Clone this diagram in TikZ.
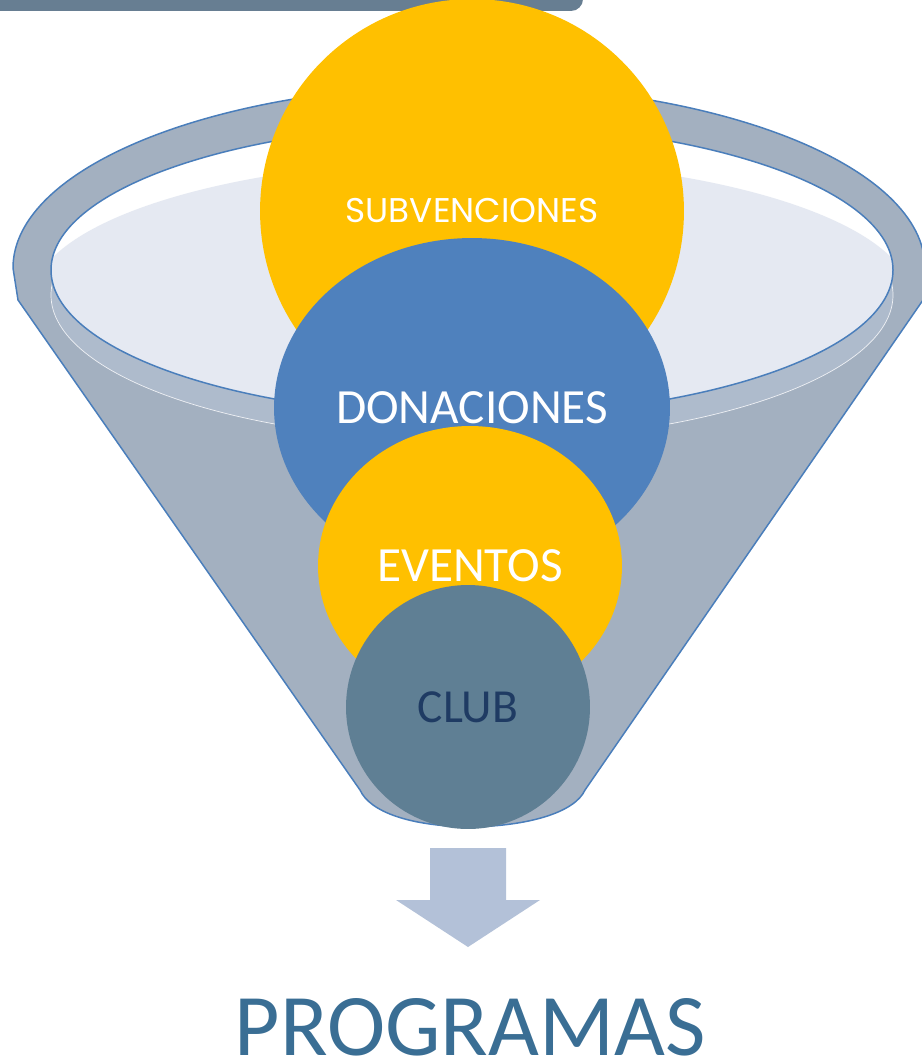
\documentclass[tikz,border=0pt]{standalone}
\usepackage{fontspec}
\setmainfont{Carlito}
\newfontfamily\gothic{Poppins}
\usetikzlibrary{shapes.geometric}

\definecolor{barslate}{HTML}{677E92}
\definecolor{funnelgray}{HTML}{A3B0C0}
\definecolor{bandgray}{HTML}{AEBBCC}
\definecolor{lavender}{HTML}{E5E9F2}
\definecolor{rimblue}{HTML}{4A7EBB}
\definecolor{gold}{HTML}{FFC000}
\definecolor{steel}{HTML}{4F81BD}
\definecolor{clubslate}{HTML}{5F7F94}
\definecolor{navy}{HTML}{1F3B63}
\definecolor{arrowblue}{HTML}{B3C1D8}
\definecolor{progblue}{HTML}{3A6E94}

\tikzset{
  bubble/.style={ellipse, inner sep=0pt, text=white, font=\fontsize{28}{31}\selectfont},
  rim/.style={draw=rimblue, line width=0.85pt}
}

\begin{document}
\begin{tikzpicture}[x=0.02cm,y=-0.02cm]
      \useasboundingbox (0,0) rectangle (922,1061);
      \clip (0,0) rectangle (922,1061);
      % top bar
      \fill[barslate, rounded corners=0.24cm] (-20,-40) rectangle (583,11);
      % funnel body
      \path[fill=funnelgray, rim] (18,300) -- (13,268)
        arc [start angle=180, end angle=360, x radius=456, y radius=183]
        -- (923,300) -- (585,790)
        .. controls (575,812) and (530,826) .. (470,827)
        .. controls (410,826) and (370,812) .. (360,790) -- cycle;
      % rim
      \filldraw[fill=bandgray, draw=white!80!bandgray, line width=0.4pt] (472,295) ellipse [x radius=421, y radius=146];
      \fill[white] (472,270) ellipse [x radius=421, y radius=146];
      \begin{scope}
        \clip (472,270) ellipse [x radius=421, y radius=146];
        \fill[lavender] (472,300) ellipse [x radius=440, y radius=140];
      \end{scope}
      \draw[rim] (472,270) ellipse [x radius=421, y radius=146];
      % sources
      \node[bubble, fill=gold, minimum width=8.48cm, minimum height=8.48cm,
        font=\gothic\fontsize{19.5}{22}\selectfont] (subv) at (472,211) {SUBVENCIONES};
      \node[bubble, fill=steel, minimum width=7.92cm, minimum height=6.8cm] (donac) at (472,408) {DONACIONES};
      \node[bubble, fill=gold, minimum width=6.08cm, minimum height=5.6cm] (event) at (470,566) {EVENTOS};
      \node[bubble, fill=clubslate, minimum width=4.88cm, minimum height=4.88cm,
        text=navy, font=\fontsize{27}{30}\selectfont] (club) at (468,707) {CLUB};
      % outflow
      \fill[arrowblue] (430,848) -- (506,848) -- (506,900) -- (540,900)
        -- (468,947) -- (396,900) -- (430,900) -- cycle;
      \node[inner sep=0pt, text=progblue, font=\fontsize{50}{53}\selectfont] (prog) at (470,1027) {PROGRAMAS};
    \end{tikzpicture}
\end{document}
